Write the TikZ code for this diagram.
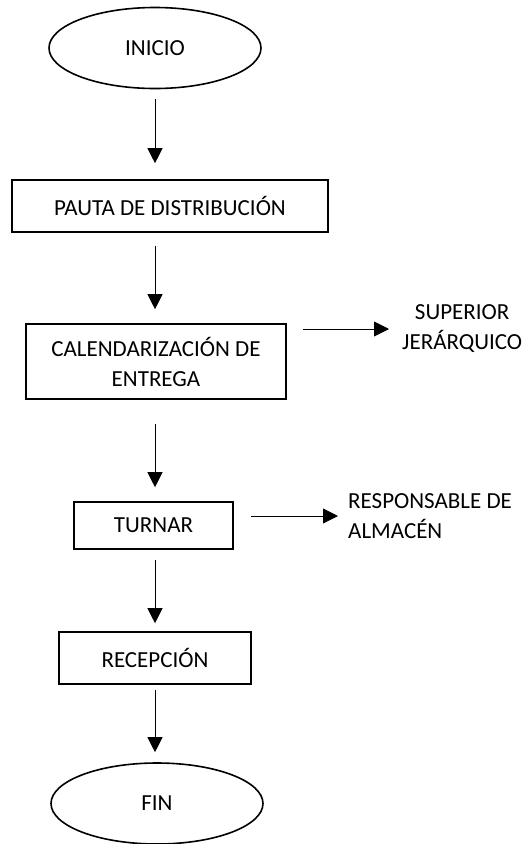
\documentclass[tikz,border=0pt]{standalone}
\usepackage{fontspec}
\setmainfont{Carlito}
\usetikzlibrary{shapes.geometric,arrows.meta}
\begin{document}
\begin{tikzpicture}[x=1pt,y=-1pt,
  every node/.style={font=\fontsize{23}{30}\selectfont},
  term/.style={ellipse,draw,line width=1.6pt,inner sep=0pt,minimum width=212pt,minimum height=81pt},
  proc/.style={rectangle,draw,line width=1.6pt,inner sep=0pt,align=center},
  lbl/.style={inner sep=0pt},
  flow/.style={line width=0.9pt,-{Triangle[width=15pt,length=15pt]}}
]
\useasboundingbox (0,0) rectangle (532,844);
\node[term] (ini) at (155,48) {INICIO};
\node[proc,minimum width=316pt,minimum height=52pt] (pauta) at (170,206) {PAUTA DE DISTRIBUCIÓN};
\node[proc,minimum width=260pt,minimum height=75pt] (cal) at (156,361.5) {CALENDARIZACIÓN DE\\ENTREGA};
\node[proc,minimum width=159pt,minimum height=47pt] (turnar) at (153.5,525.5) {TURNAR};
\node[proc,minimum width=192pt,minimum height=52pt] (rec) at (155,658) {RECEPCIÓN};
\node[term] (fin) at (157,803.5) {FIN};
\node[lbl,align=center,anchor=west] (sup) at (402,329) {SUPERIOR\\JERÁRQUICO};
\node[lbl,align=left,anchor=west] (resp) at (348,516) {RESPONSABLE DE\\ALMACÉN};

\draw[flow,shorten <=10pt,shorten >=16pt] (ini.south) -- (ini.south |- pauta.north);
\draw[flow,shorten <=13pt,shorten >=14pt] (ini.south |- pauta.south) -- (ini.south |- cal.north);
\draw[flow,shorten <=24pt,shorten >=14pt] (ini.south |- cal.south) -- (ini.south |- turnar.north);
\draw[flow,shorten <=10pt,shorten >=8pt] (ini.south |- turnar.south) -- (ini.south |- rec.north);
\draw[flow,shorten <=5pt,shorten >=10pt] (ini.south |- rec.south) -- (ini.south |- fin.north);
\draw[flow,shorten <=16pt,shorten >=13pt] (cal.east |- sup.west) -- (sup.west);
\draw[flow,shorten <=17pt,shorten >=10pt] (turnar.east |- resp.west) -- (resp.west);
\end{tikzpicture}
\end{document}
